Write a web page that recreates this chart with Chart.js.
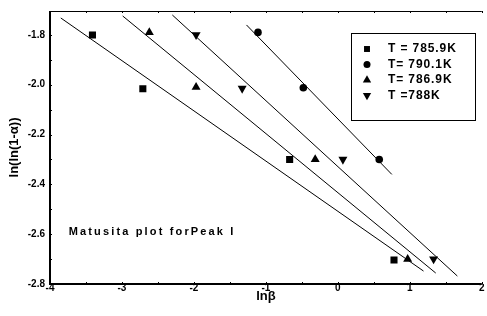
<!DOCTYPE html>
<html>
<head>
<meta charset="utf-8">
<script src="https://cdn.jsdelivr.net/npm/chart.js@4/dist/chart.umd.min.js"></script>
<style>
  html, body { margin: 0; padding: 0; background: #fff; }
  #wrap { width: 487px; height: 316px; }
</style>
</head>
<body>
<div id="wrap"><canvas id="myChart"></canvas></div>
<script>
// measured points (ln beta, ln(ln(1-a)))
let labels = ['T = 785.9K', 'T= 790.1K', 'T= 786.9K', 'T =788K'];
let styles = ['rect', 'circle', 'triangle', 'triangle'];

let x1 = [-3.41, -2.71, -0.67, 0.78];
let y1 = [-1.80, -2.016, -2.30, -2.704];

let x2 = [-1.11, -0.48, 0.575];
let y2 = [-1.79, -2.012, -2.30];

let x3 = [-2.62, -1.97, -0.315, 0.97];
let y3 = [-1.79, -2.01, -2.30, -2.70];

let x4 = [-1.97, -1.33, 0.07, 1.33];
let y4 = [-1.80, -2.015, -2.30, -2.70];

// fitted lines, end points
let fitX1 = [-3.85, 1.19], fitY1 = [-1.732, -2.748];
let fitX2 = [-1.27, 0.75], fitY2 = [-1.76, -2.36];
let fitX3 = [-2.99, 1.36], fitY3 = [-1.724, -2.756];
let fitX4 = [-2.30, 1.66], fitY4 = [-1.72, -2.768];

let xTicks = [-4, -3, -2, -1, 0, 1, 2];
let yTicks = [-2.8, -2.6, -2.4, -2.2, -2.0, -1.8];

let note = 'Matusita plot forPeak I';
let noteAt = { x: -3.74, y: -2.592 };

const FONT = '"Liberation Sans", Arial, sans-serif';

function pts(xs, ys) {
    return xs.map((x, i) => ({ x: x, y: ys[i] }));
}

function pointSet(i, xs, ys) {
    return {
        label: labels[i],
        data: pts(xs, ys),
        showLine: false,
        pointStyle: styles[i],
        rotation: i === 3 ? 180 : 0,
        pointRadius: styles[i] === 'rect' ? 5 : (styles[i] === 'circle' ? 3.8 : 5.2),
        backgroundColor: '#000',
        borderColor: '#000',
        borderWidth: 0
    };
}

function fitSet(xs, ys) {
    return {
        label: '',
        fit: true,
        data: pts(xs, ys),
        showLine: true,
        pointRadius: 0,
        borderColor: '#000',
        borderWidth: 1,
        fill: false
    };
}

const framePlugin = {
    id: 'frame',
    afterDraw(chart) {
        const ctx = chart.ctx;
        const a = chart.chartArea;
        const xs = chart.scales.x, ys = chart.scales.y;
        ctx.save();
        ctx.strokeStyle = '#000';
        // top border
        ctx.lineWidth = 1;
        ctx.beginPath();
        ctx.moveTo(a.left, a.top + 0.5);
        ctx.lineTo(a.right, a.top + 0.5);
        ctx.stroke();
        // left and bottom axes
        ctx.lineWidth = 2;
        ctx.beginPath();
        ctx.moveTo(a.left, a.top);
        ctx.lineTo(a.left, a.bottom);
        ctx.lineTo(a.right, a.bottom);
        ctx.stroke();
        // small inward ticks
        ctx.lineWidth = 1;
        ctx.beginPath();
        for (let v = -2.8; v <= -1.7; v += 0.1) {
            let py = Math.round(ys.getPixelForValue(v)) + 0.5;
            ctx.moveTo(a.left, py);
            ctx.lineTo(a.left + 2, py);
        }
        for (let v = -4; v <= 2; v += 0.5) {
            let px = Math.round(xs.getPixelForValue(v)) + 0.5;
            ctx.moveTo(px, a.bottom);
            ctx.lineTo(px, a.bottom - 2);
            ctx.moveTo(px, a.top);
            ctx.lineTo(px, a.top + 2);
        }
        ctx.stroke();

        // note text
        ctx.fillStyle = '#000';
        ctx.font = 'bold 11px ' + FONT;
        ctx.letterSpacing = '2.15px';
        ctx.textBaseline = 'middle';
        ctx.textAlign = 'left';
        ctx.fillText(note, xs.getPixelForValue(noteAt.x), ys.getPixelForValue(noteAt.y));

        // legend box
        const bx = 351, by = 33, bw = 124, bh = 87;
        ctx.lineWidth = 1;
        ctx.strokeRect(bx + 0.5, by + 0.5, bw, bh);
        ctx.font = 'bold 12px ' + FONT;
        ctx.letterSpacing = '0.9px';
        const sets = chart.data.datasets.filter(d => !d.fit);
        sets.forEach((d, i) => {
            let cy = by + 16 + i * 15.5;
            ctx.fillStyle = '#000';
            Chart.helpers.drawPoint(ctx, {
                pointStyle: d.pointStyle,
                rotation: d.rotation,
                radius: d.pointStyle === 'rect' ? 4.2 : (d.pointStyle === 'circle' ? 3.5 : 4.8),
                borderWidth: 0
            }, 367, cy);
            ctx.fillText(d.label, 388, cy);
        });
        ctx.restore();
    }
};

const ctx = document.getElementById('myChart').getContext('2d');
const myChart = new Chart(ctx, {
    type: 'scatter',
    data: {
        datasets: [
            pointSet(0, x1, y1),
            pointSet(1, x2, y2),
            pointSet(2, x3, y3),
            pointSet(3, x4, y4),
            fitSet(fitX1, fitY1),
            fitSet(fitX2, fitY2),
            fitSet(fitX3, fitY3),
            fitSet(fitX4, fitY4)
        ]
    },
    options: {
        responsive: true,
        maintainAspectRatio: false,
        animation: false,
        layout: { padding: { top: 11, right: 0, left: 0, bottom: 0 } },
        plugins: {
            legend: { display: false },
            tooltip: { enabled: false }
        },
        scales: {
            x: {
                type: 'linear',
                min: -4,
                max: 2,
                afterFit: s => { s.height = 32; },
                afterBuildTicks: s => { s.ticks = xTicks.map(v => ({ value: v })); },
                grid: { display: false, drawTicks: false },
                border: { display: false },
                ticks: {
                    color: '#000',
                    padding: -2,
                    autoSkip: false,
                    maxRotation: 0,
                    font: { family: FONT, size: 10, weight: 'bold' },
                    callback: v => String(v)
                },
                title: {
                    display: true,
                    text: 'lnβ',
                    color: '#000',
                    padding: { top: 0, bottom: 12 },
                    font: { family: FONT, size: 13, weight: 'bold' }
                }
            },
            y: {
                type: 'linear',
                min: -2.8,
                max: -1.704,
                afterFit: s => { s.width = 50; },
                afterBuildTicks: s => { s.ticks = yTicks.map(v => ({ value: v })); },
                grid: { display: false, drawTicks: false },
                border: { display: false },
                ticks: {
                    color: '#000',
                    padding: 5,
                    autoSkip: false,
                    font: { family: FONT, size: 10, weight: 'bold' },
                    callback: v => v.toFixed(1)
                },
                title: {
                    display: true,
                    text: 'ln(ln(1-α))',
                    color: '#000',
                    padding: { top: 7, bottom: 0 },
                    font: { family: FONT, size: 13, weight: 'bold' }
                }
            }
        }
    },
    plugins: [framePlugin]
});
</script>
</body>
</html>
